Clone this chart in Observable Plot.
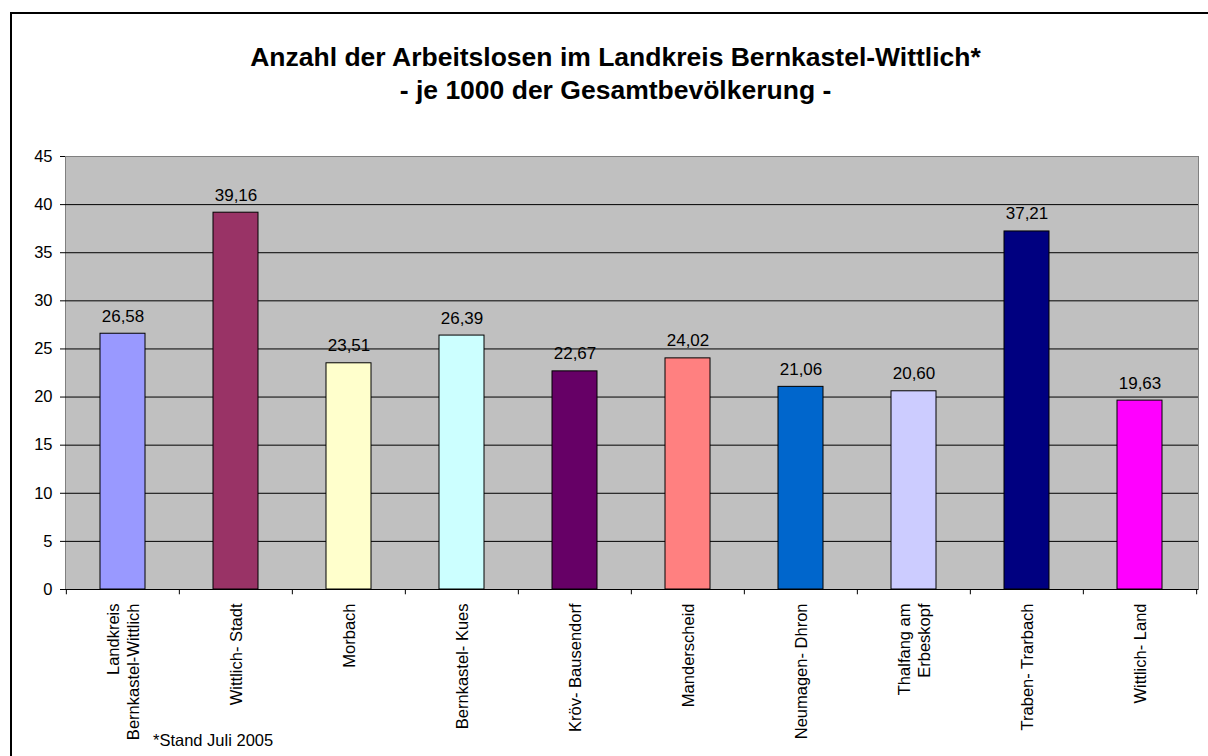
<!DOCTYPE html>
<html>
<head>
<meta charset="utf-8">
<script src="https://cdn.jsdelivr.net/npm/d3@7"></script>
<script src="https://cdn.jsdelivr.net/npm/@observablehq/plot@0.6"></script>
<style>
  html, body { margin: 0; padding: 0; background: #fff; }
  #wrap { position: relative; width: 1208px; height: 756px; overflow: hidden; font-family: Arial, "Liberation Sans", sans-serif; }
  #border { position: absolute; left: 10px; top: 12px; width: 1300px; height: 900px; border: 2px solid #000; box-sizing: border-box; }
  #title { position: absolute; left: 0; top: 41px; width: 1231px; text-align: center; font-weight: bold; font-size: 26.5px; line-height: 33px; color: #000; }
  #foot { position: absolute; left: 153px; top: 731px; font-size: 16.5px; line-height: 19px; color: #000; }
  #chart { position: absolute; left: 0; top: 0; }
</style>
</head>
<body>
<div id="wrap">
  <div id="border"></div>
  <div id="chart"></div>
  <div id="title">Anzahl der Arbeitslosen im Landkreis Bernkastel-Wittlich*<br>- je 1000 der Gesamtbevölkerung -</div>
  <div id="foot">*Stand Juli 2005</div>
</div>
<script>
const categories = ["Landkreis Bernkastel-Wittlich", "Wittlich- Stadt", "Morbach", "Bernkastel- Kues", "Kröv- Bausendorf", "Manderscheid", "Neumagen- Dhron", "Thalfang am Erbeskopf", "Traben- Trarbach", "Wittlich- Land"];
const tickLabels = ["Landkreis\nBernkastel-Wittlich", "Wittlich- Stadt", "Morbach", "Bernkastel- Kues", "Kröv- Bausendorf", "Manderscheid", "Neumagen- Dhron", "Thalfang am\nErbeskopf", "Traben- Trarbach", "Wittlich- Land"];
const values = [26.58, 39.16, 23.51, 26.39, 22.67, 24.02, 21.06, 20.60, 37.21, 19.63];
const colors = ["#9999FF", "#993366", "#FFFFCC", "#CCFFFF", "#660066", "#FF8080", "#0066CC", "#CCCCFF", "#000080", "#FF00FF"];
const yTicks = [0, 5, 10, 15, 20, 25, 30, 35, 40, 45];
const gridValues = [5, 10, 15, 20, 25, 30, 35, 40];

const data = categories.map((c, i) => ({cat: c, label: tickLabels[i], value: values[i], color: colors[i]}));

const W = 1208, H = 756, ML = 65, MR = 10, MT = 156, MB = 167;
const step = (W - ML - MR) / categories.length;
const fmt = v => v.toFixed(2).replace(".", ",");

const chart = Plot.plot({
  width: W, height: H,
  marginLeft: ML, marginRight: MR, marginTop: MT, marginBottom: MB,
  style: {fontFamily: "Arial, 'Liberation Sans', sans-serif", background: "transparent", overflow: "visible"},
  x: {domain: categories, paddingInner: 0.6, paddingOuter: 0.3, axis: null},
  y: {domain: [0, 45], axis: null},
  marks: [
    Plot.frame({fill: "#c0c0c0", stroke: "#808080"}),
    Plot.ruleY(gridValues, {stroke: "#000", strokeWidth: 1}),
    Plot.barY(data, {x: "cat", y: "value", fill: "color", stroke: "#000", strokeWidth: 1}),
    Plot.text(data, {x: "cat", y: "value", text: d => fmt(d.value), dy: -12, lineAnchor: "bottom", fontSize: 17, fill: "#000"}),
    Plot.ruleY([0], {stroke: "#000", strokeWidth: 1}),
    Plot.ruleX([0], {x: () => 0, frameAnchor: "left", stroke: "#000"}),
    Plot.axisY({ticks: yTicks, tickSize: 5, tickPadding: 8, fontSize: 16.5, stroke: "#000", color: "#000", label: null}),
    Plot.ruleX(categories, {x: d => d, dx: -step / 2, y1: 0, y2: -0.55, stroke: "#000"}),
    Plot.ruleX([categories[categories.length - 1]], {x: d => d, dx: step / 2, y1: 0, y2: -0.55, stroke: "#000"}),
    Plot.text(data, {x: "cat", text: "label", frameAnchor: "bottom", rotate: -90, textAnchor: "end", lineAnchor: "middle", dy: 14, fontSize: 16.5, lineHeight: 1.2, fill: "#000"})
  ]
});
document.getElementById("chart").appendChild(chart);
</script>
</body>
</html>
